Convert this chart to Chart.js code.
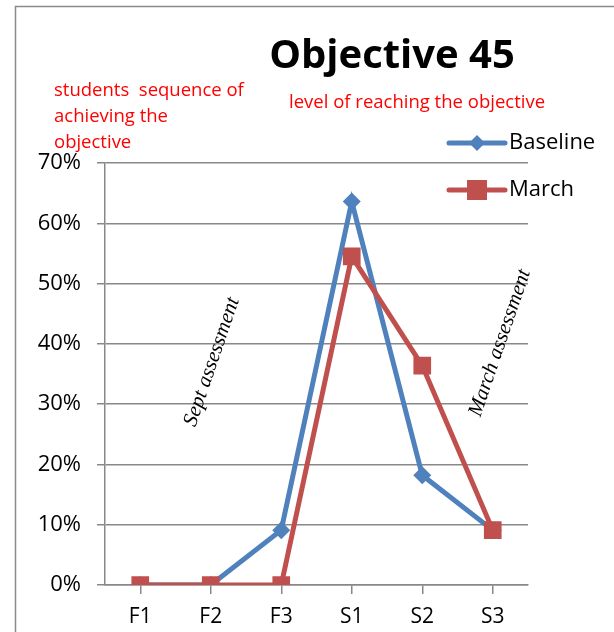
<!DOCTYPE html>
<html>
<head>
<meta charset="utf-8">
<script src="https://cdn.jsdelivr.net/npm/chart.js@4/dist/chart.umd.min.js"></script>
<style>
html,body{margin:0;padding:0;background:#fff;}
#wrap{width:614px;height:632px;position:relative;}
</style>
</head>
<body>
<div id="wrap"><canvas id="c"></canvas></div>
<script>
const categories = ['F1', 'F2', 'F3', 'S1', 'S2', 'S3'];
const baselineValues = [0, 0, 9.1, 63.6, 18.2, 9.1];
const marchValues = [0, 0, 0, 54.5, 36.4, 9.1];
const seriesNames = ['Baseline', 'March'];
const titleText = 'Objective 45';
const noteLeft = ['students  sequence of', 'achieving the', 'objective'];
const noteRight = 'level of reaching the objective';
const rotNotes = ['Sept assessment', 'March assessment'];

const BLUE = '#4F81BD';
const RED = '#C0504D';
const GRID = '#888888';

const decor = {
  id: 'decor',
  beforeDraw(chart) {
    const ctx = chart.ctx;
    ctx.save();
    ctx.fillStyle = '#fff';
    ctx.fillRect(0, 0, chart.width, chart.height);
    ctx.strokeStyle = '#8a8a8a';
    ctx.lineWidth = 1.5;
    ctx.strokeRect(15.5, 6.5, 700, 700);
    ctx.restore();
  },
  afterDraw(chart) {
    const ctx = chart.ctx;
    ctx.save();
    // title
    ctx.fillStyle = '#000';
    ctx.font = 'bold 40px "Open Sans"';
    ctx.textAlign = 'center';
    ctx.textBaseline = 'middle';
    ctx.fillText(titleText, 392, 57);
    // red notes
    ctx.fillStyle = '#ff0000';
    ctx.font = '18.5px "Open Sans"';
    ctx.textAlign = 'left';
    noteLeft.forEach((t, i) => ctx.fillText(t, 54, 91 + i * 26));
    ctx.fillText(noteRight, 289, 103);
    // rotated notes
    ctx.fillStyle = '#000';
    ctx.font = 'italic 21px "Liberation Serif"';
    ctx.textAlign = 'center';
    ctx.textBaseline = 'middle';
    const rot = [[212, 362], [500, 343]];
    rotNotes.forEach((t, i) => {
      ctx.save();
      ctx.translate(rot[i][0], rot[i][1]);
      ctx.rotate(-71 * Math.PI / 180);
      ctx.fillText(t, 0, 0);
      ctx.restore();
    });
    // legend
    const items = [[BLUE, 'rectRot', 143, 8], [RED, 'rect', 190, 10]];
    items.forEach((it, i) => {
      ctx.strokeStyle = it[0];
      ctx.lineWidth = 5;
      ctx.lineCap = 'round';
      ctx.beginPath();
      ctx.moveTo(449, it[2]);
      ctx.lineTo(505, it[2]);
      ctx.stroke();
      ctx.fillStyle = it[0];
      ctx.beginPath();
      if (it[1] === 'rectRot') {
        ctx.moveTo(477 - it[3], it[2]); ctx.lineTo(477, it[2] - it[3]);
        ctx.lineTo(477 + it[3], it[2]); ctx.lineTo(477, it[2] + it[3]);
      } else {
        ctx.rect(477 - it[3], it[2] - it[3], 2 * it[3], 2 * it[3]);
      }
      ctx.closePath();
      ctx.fill();
      ctx.fillStyle = '#000';
      ctx.font = '22px "Open Sans"';
      ctx.textAlign = 'left';
      ctx.textBaseline = 'middle';
      ctx.fillText(seriesNames[i], 509, it[2]);
    });
    ctx.restore();
  }
};

new Chart(document.getElementById('c'), {
  type: 'line',
  data: {
    labels: categories,
    datasets: [
      {
        label: seriesNames[0], data: baselineValues, order: 2,
        borderColor: BLUE, backgroundColor: BLUE, borderWidth: 5,
        pointStyle: 'rectRot', pointRadius: 9, pointHoverRadius: 9,
        pointBorderWidth: 0, tension: 0
      },
      {
        label: seriesNames[1], data: marchValues, order: 1,
        borderColor: RED, backgroundColor: RED, borderWidth: 5,
        pointStyle: 'rect', pointRadius: 12.5, pointHoverRadius: 12.5,
        pointBorderWidth: 0, tension: 0
      }
    ]
  },
  options: {
    responsive: true,
    maintainAspectRatio: false,
    animation: false,
    events: [],
    layout: {padding: {top: 163, right: 86, left: 0, bottom: 0}},
    plugins: {legend: {display: false}, title: {display: false}, tooltip: {enabled: false}},
    scales: {
      x: {
        offset: true,
        grid: {drawOnChartArea: false, drawTicks: true, tickLength: 9, color: GRID, lineWidth: 1.5},
        border: {color: GRID, width: 1.5},
        ticks: {color: '#000', font: {family: 'Open Sans', size: 21}, padding: 10},
        afterFit(s) { s.height = 47; }
      },
      y: {
        min: 0, max: 70,
        grid: {color: GRID, lineWidth: 1.5, tickLength: 8},
        border: {color: GRID, width: 1.5},
        ticks: {stepSize: 10, color: '#000', font: {family: 'Open Sans', size: 22}, padding: 16,
          callback: v => v + '%'},
        afterFit(s) { s.width = 105; }
      }
    }
  },
  plugins: [decor]
});
</script>
</body>
</html>
